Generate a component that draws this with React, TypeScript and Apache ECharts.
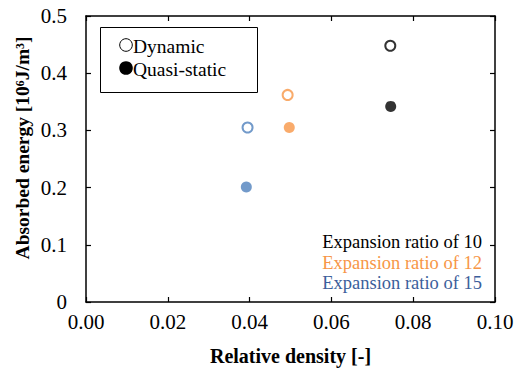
import React, { useEffect, useRef } from "react";
import * as echarts from "echarts";

const ratioColors = ["#4F81BD", "#F79646", "#000000"]; // expansion ratio 15, 12, 10
const dynamicDensity = [0.0395, 0.0493, 0.0744];
const dynamicEnergy = [0.305, 0.362, 0.448];
const quasiDensity = [0.0392, 0.0497, 0.0745];
const quasiEnergy = [0.201, 0.305, 0.342];
const annotations = ["Expansion ratio of 10", "Expansion ratio of 12", "Expansion ratio of 15"];
const annotationColors = ["#000000", "#F79646", "#3B5E9B"];

const FONT = "'Liberation Serif', 'Times New Roman', serif";

export default function App() {
  const ref = useRef<HTMLDivElement>(null);
  useEffect(() => {
    if (!ref.current) return;
    const chart = echarts.init(ref.current, null, { renderer: "svg" });
    const axisCommon = {
      axisLine: { show: true, onZero: false, lineStyle: { color: "#000", width: 1.5 } },
      axisTick: { show: true, inside: true, length: 5, lineStyle: { color: "#000", width: 1.2 } },
      splitLine: { show: false },
    };
    const dynData = dynamicDensity.map((x, i) => ({
      value: [x, dynamicEnergy[i]],
      itemStyle: { color: "#fff", borderColor: ratioColors[i], borderWidth: 2 },
    }));
    const qsData = quasiDensity.map((x, i) => ({
      value: [x, quasiEnergy[i]],
      itemStyle: { color: ratioColors[i] },
    }));
    chart.setOption({
      animation: false,
      backgroundColor: "#fff",
      grid: { left: 86, right: 22, top: 16, bottom: 70, containLabel: false },
      xAxis: [
        {
          type: "value", min: 0, max: 0.1, interval: 0.02, position: "bottom",
          ...axisCommon,
          axisLabel: { color: "#000", fontFamily: FONT, fontSize: 21, margin: 9, formatter: (v: number) => v.toFixed(2) },
          name: "Relative density [-]",
          nameLocation: "middle",
          nameGap: 44,
          nameTextStyle: { color: "#000", fontFamily: FONT, fontSize: 20, fontWeight: "bold" },
        },
        {
          type: "value", min: 0, max: 0.1, interval: 0.02, position: "top",
          ...axisCommon, axisLabel: { show: false },
        },
      ],
      yAxis: [
        {
          type: "value", min: 0, max: 0.5, interval: 0.1, position: "left",
          ...axisCommon,
          axisLabel: { color: "#000", fontFamily: FONT, fontSize: 21, margin: 19, formatter: (v: number) => (v === 0 ? "0" : v.toFixed(1)) },
        },
        {
          type: "value", min: 0, max: 0.5, interval: 0.1, position: "right",
          ...axisCommon, axisLabel: { show: false },
        },
      ],
      series: [
        { name: "Dynamic", type: "scatter", symbol: "circle", symbolSize: 10, data: dynData, z: 3 },
        { name: "Quasi-static", type: "scatter", symbol: "circle", symbolSize: 11, data: qsData, z: 3 },
      ],
      graphic: [
        {
          type: "text", x: 22, y: 148, rotation: Math.PI / 2,
          style: {
            text: "Absorbed energy [10⁶J/m³]", fill: "#000", font: `bold 19.5px ${FONT}`,
            textAlign: "center", textVerticalAlign: "middle",
          },
        },
        {
          type: "rect", shape: { x: 100.5, y: 27.5, width: 157, height: 65 },
          style: { fill: "#fff", stroke: "#000", lineWidth: 1 }, z: 10,
        },
        {
          type: "circle", shape: { cx: 126, cy: 45, r: 6.3 },
          style: { fill: "#fff", stroke: "#000", lineWidth: 1 }, z: 11,
        },
        {
          type: "circle", shape: { cx: 126, cy: 68, r: 6.8 },
          style: { fill: "#000" }, z: 11,
        },
        {
          type: "text", x: 133, y: 46, z: 11,
          style: { text: "Dynamic", fill: "#000", font: `19.5px ${FONT}`, textVerticalAlign: "middle" },
        },
        {
          type: "text", x: 133, y: 69, z: 11,
          style: { text: "Quasi-static", fill: "#000", font: `19.5px ${FONT}`, textVerticalAlign: "middle" },
        },
        ...annotations.map((t, i) => ({
          type: "text", x: 482, y: 242 + i * 20.5, z: 11,
          style: { text: t, fill: annotationColors[i], font: `18.5px ${FONT}`, textAlign: "right", textVerticalAlign: "middle" },
        })),
      ],
    });
    return () => chart.dispose();
  }, []);
  return <div ref={ref} style={{ position: "fixed", left: 0, top: 0, width: 517, height: 372 }} />;
}
